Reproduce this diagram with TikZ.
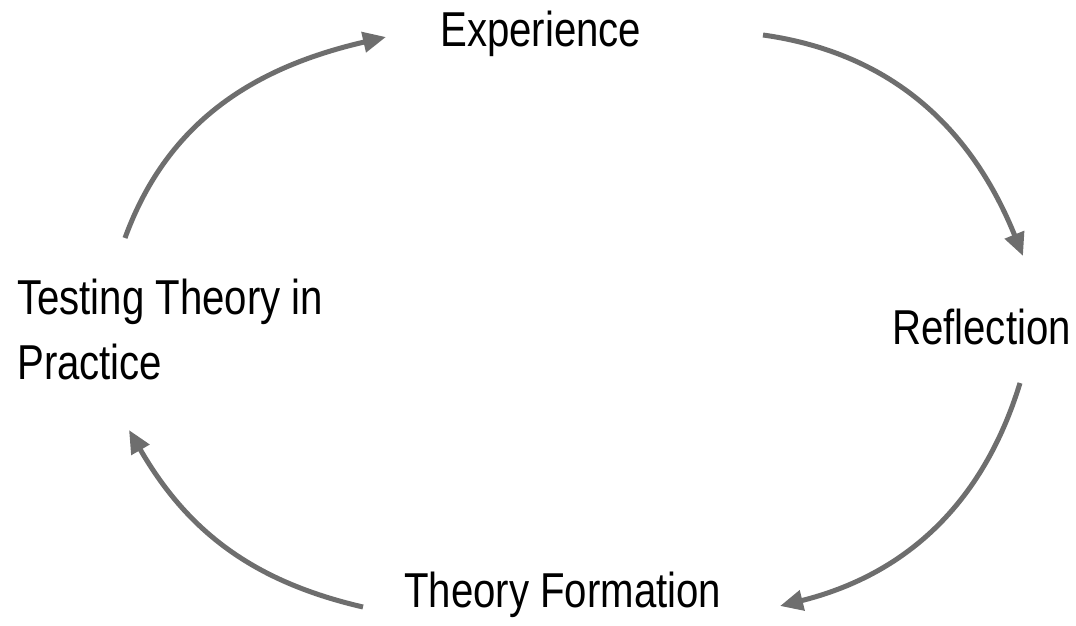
\documentclass[tikz,border=0pt]{standalone}
\usepackage{fontspec}
\newfontfamily\labfont[FakeStretch=0.82]{Liberation Sans}
\usetikzlibrary{arrows.meta}
\definecolor{arrowgray}{HTML}{6E6E6E}
\tikzset{
  lbl/.style={anchor=base west, inner sep=0pt, font=\labfont\fontsize{49}{65}\selectfont},
  cyc/.style={draw=arrowgray, line width=5pt, -{Triangle[length=23pt,width=20pt]}}
}
\begin{document}
\begin{tikzpicture}[x=1pt,y=1pt]
\useasboundingbox (0,0) rectangle (1076,626);
\node[lbl] (exp) at (440,579) {Experience};
\node[lbl] (test) at (17,311) {Testing Theory in};
\node[lbl] (prac) at (17,246) {Practice};
\node[lbl] (refl) at (892,281) {Reflection};
\node[lbl] (form) at (404,18) {Theory Formation};
\coordinate (a1s) at (125,388); \coordinate (a1e) at (386,589);
\coordinate (a2s) at (763,591); \coordinate (a2e) at (1023,370);
\coordinate (a3s) at (1020,243); \coordinate (a3e) at (780,20);
\coordinate (a4s) at (363,19);  \coordinate (a4e) at (129,196);
\draw[cyc] (a1s) to[out=70,in=193] (a1e);
\draw[cyc] (a2s) to[out=-8,in=112] (a2e);
\draw[cyc] (a3s) to[out=-107,in=14] (a3e);
\draw[cyc] (a4s) to[out=167,in=-60] (a4e);
\end{tikzpicture}
\end{document}
